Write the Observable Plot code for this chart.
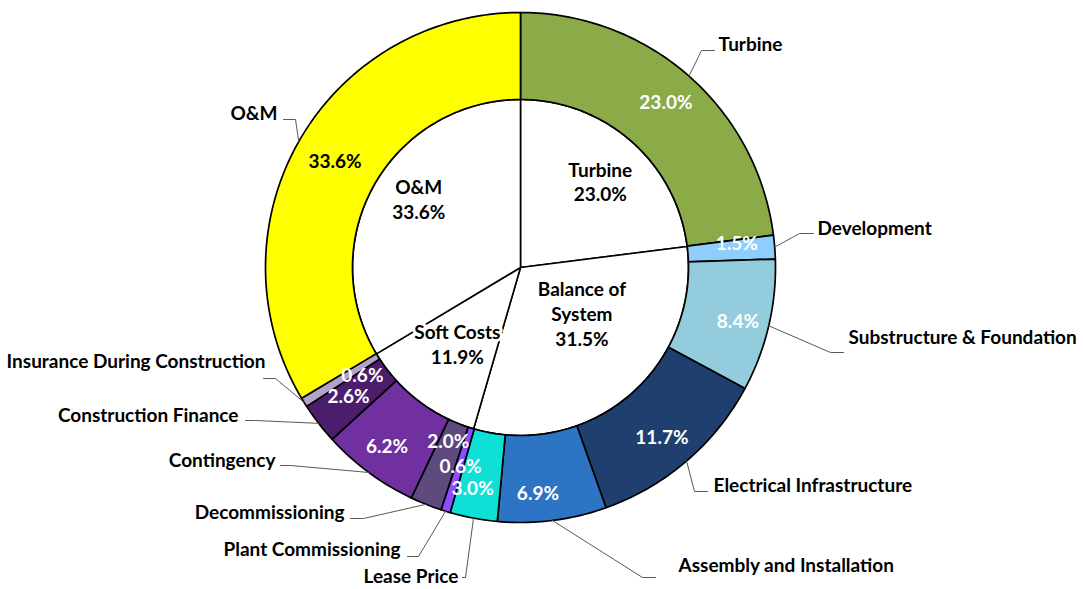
<!DOCTYPE html>
<html><head><meta charset="utf-8">
<script src="https://cdn.jsdelivr.net/npm/d3@7"></script>
<script src="https://cdn.jsdelivr.net/npm/@observablehq/plot@0.6"></script>
<style>body{margin:0;background:#fff;} #chart{width:1083px;height:589px;}</style>
</head><body><div id="chart"></div>
<script>
// ---- data ----
const groups = ["Turbine", "Balance of\nSystem", "Soft Costs", "O&M"];
const groupValues = [23.0, 31.5, 11.9, 33.6];

const segments = ["Turbine", "Development", "Substructure & Foundation", "Electrical Infrastructure",
  "Assembly and Installation", "Lease Price", "Plant Commissioning", "Decommissioning",
  "Contingency", "Construction Finance", "Insurance During Construction", "O&M"];
const segmentValues = [23.0, 1.5, 8.4, 11.7, 6.9, 3.0, 0.6, 2.0, 6.2, 2.6, 0.6, 33.6];
const segmentColors = ["#8aab47", "#8ecdfc", "#93cddd", "#1f406f", "#2e74c4", "#0fe0d6",
  "#8c4dff", "#5f4a7e", "#7030a0", "#4c1d6c", "#b3a3c8", "#ffff00"];
const segmentLabelColors = ["white", "white", "white", "white", "white", "white",
  "white", "white", "white", "white", "white", "black"];

// ---- layout (pixels) ----
const W = 1083, H = 589, CX = 520, CY = 267, R_OUT = 255, R_IN = 168, R_LAB = 211, R_INLAB = 110;
// percent-label nudges [dx, dy]
const pctNudge = [[6,-6],[6,-7],[12,6],[4,10],[-9,17],[-9,14],[2,-2],[6,-22],[-8,10],[-5,0],[21,-3],[-2,-1]];
// inner label nudges
const innerNudge = [[7,-4],[-10,-38],[4,-11],[-6,-15]];
// leader layout [elbowX, elbowY, endX, textX, textY]
const leaderLayout = [
  [701,50,714,718,44],[799,233,813,817,228],[830,352,843,848,337],[694,491,707,713,485],
  [642,577,655,678,565],[465,577,462,458,576],[418,556,407,400,549],[363,518,350,344,512],
  [290,465,280,275,460],[255,420,245,238,415],[275,378,263,265,361],[295,119,283,277,113]
];

const pt = (r, a) => ({x: CX + r * Math.sin(a), y: CY - r * Math.cos(a)});

// outer ring polygons
const segTotal = d3.sum(segmentValues);
let cum = 0;
const ringPts = [], pctLabels = [], leaderPts = [], catLabels = [];
segments.forEach((name, i) => {
  const a0 = cum / segTotal * 2 * Math.PI;
  cum += segmentValues[i];
  const a1 = cum / segTotal * 2 * Math.PI;
  const n = Math.max(2, Math.ceil((a1 - a0) * 180 / Math.PI));
  const poly = [];
  for (let k = 0; k <= n; k++) poly.push(pt(R_OUT, a0 + (a1 - a0) * k / n));
  for (let k = n; k >= 0; k--) poly.push(pt(R_IN, a0 + (a1 - a0) * k / n));
  poly.push(poly[0]);
  poly.forEach(p => ringPts.push({...p, name}));
  const am = (a0 + a1) / 2;
  const lp = pt(R_LAB, am);
  pctLabels.push({x: lp.x + pctNudge[i][0], y: lp.y + pctNudge[i][1],
    text: segmentValues[i].toFixed(1) + "%", color: segmentLabelColors[i]});
  const e = pt(R_OUT, am);
  const [ex, ey, endX, tx, ty] = leaderLayout[i];
  [e, {x: ex, y: ey}, {x: endX, y: ey}].forEach(p => leaderPts.push({...p, name}));
  catLabels.push({x: tx, y: ty, text: name, side: tx > CX ? "right" : "left"});
});

// inner pie
const gTotal = d3.sum(groupValues);
let gc = 0;
const piePts = [], innerLabels = [];
groups.forEach((g, i) => {
  const a0 = gc / gTotal * 2 * Math.PI;
  gc += groupValues[i];
  const a1 = gc / gTotal * 2 * Math.PI;
  const n = Math.max(2, Math.ceil((a1 - a0) * 180 / Math.PI));
  const poly = [{x: CX, y: CY}];
  for (let k = 0; k <= n; k++) poly.push(pt(R_IN, a0 + (a1 - a0) * k / n));
  poly.push({x: CX, y: CY});
  poly.forEach(p => piePts.push({...p, g}));
  const lp = pt(R_INLAB, (a0 + a1) / 2);
  innerLabels.push({x: lp.x + innerNudge[i][0], y: lp.y + innerNudge[i][1],
    text: g + "\n" + groupValues[i].toFixed(1) + "%"});
});

const font = {fontFamily: "Lato, 'Open Sans', sans-serif", fontWeight: "bold", fontSize: 19};

const chart = Plot.plot({
  width: W, height: H, margin: 0,
  x: {domain: [0, W], range: [0, W], axis: null},
  y: {domain: [0, H], range: [0, H], axis: null},
  color: {domain: segments, range: segmentColors},
  style: {background: "white"},
  marks: [
    Plot.line(piePts, {x: "x", y: "y", z: "g", fill: "white", stroke: "black", strokeWidth: 1.6, strokeLinejoin: "round"}),
    Plot.line(ringPts, {x: "x", y: "y", z: "name", fill: "name", stroke: "black", strokeWidth: 1.7, strokeLinejoin: "round"}),
    Plot.line(leaderPts, {x: "x", y: "y", z: "name", stroke: "#595959", strokeWidth: 1}),
    Plot.text(innerLabels, {x: "x", y: "y", text: "text", fill: "black", stroke: "white", strokeWidth: 6, lineHeight: 1.3, ...font}),
    Plot.text(pctLabels, {x: "x", y: "y", text: "text", fill: "color", ...font}),
    Plot.text(catLabels.filter(d => d.side === "right"), {x: "x", y: "y", text: "text", textAnchor: "start", fill: "black", ...font}),
    Plot.text(catLabels.filter(d => d.side === "left"), {x: "x", y: "y", text: "text", textAnchor: "end", fill: "black", ...font})
  ]
});
document.getElementById("chart").appendChild(chart);
</script>
</body></html>
